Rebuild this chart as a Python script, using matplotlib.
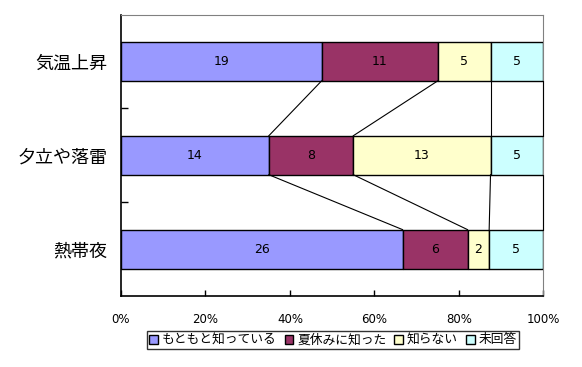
import matplotlib
matplotlib.use("Agg")
import matplotlib.pyplot as plt
import numpy as np

plt.rcParams['font.family'] = ['Noto Sans CJK JP', 'DejaVu Sans']

categories = ['気温上昇', '夕立や落雷', '熱帯夜']
series_names = ['もともと知っている', '夏休みに知った', '知らない', '未回答']
values = {
    'もともと知っている': [19, 14, 26],
    '夏休みに知った': [11, 8, 6],
    '知らない': [5, 13, 2],
    '未回答': [5, 5, 5],
}
colors = ['#9999FF', '#993366', '#FFFFCC', '#CCFFFF']
xtick_labels = ['0%', '20%', '40%', '60%', '80%', '100%']

fig = plt.figure(figsize=(5.82, 3.67), dpi=100)
ax = fig.add_axes([121/582, 1-296/367, (543.3-121)/582, (296-14.5)/367])

data = np.array([values[s] for s in series_names], dtype=float)  # series x cat
totals = data.sum(axis=0)
frac = data / totals
cum = np.cumsum(frac, axis=0)
left = cum - frac
y = np.arange(len(categories))
h = 0.415

for k, s in enumerate(series_names):
    ax.barh(y, frac[k], left=left[k], height=h, color=colors[k],
            edgecolor='black', linewidth=1.0, label=s, zorder=3)
    for i in range(len(categories)):
        ax.text(left[k][i] + frac[k][i] / 2, y[i], f"{int(data[k][i])}",
                ha='center', va='center', fontsize=9, zorder=4,
                family=['DejaVu Sans'])

# series lines (Excel style, including the last series at 100%)
for k in range(len(series_names)):
    for i in range(len(categories) - 1):
        ax.plot([cum[k][i], cum[k][i+1]], [y[i] + h/2, y[i+1] - h/2],
                color='black', linewidth=0.8, zorder=5, clip_on=False)

ax.set_xlim(0, 1)
ax.set_ylim(len(categories) - 0.5, -0.5)
ax.set_xticks(np.linspace(0, 1, 6))
ax.set_xticklabels(xtick_labels, fontsize=8.5, family=['DejaVu Sans'])
ax.set_yticks(y)
ax.set_yticklabels(categories, fontsize=13)
ax.set_yticks([0.5, 1.5], minor=True)
ax.tick_params(axis='y', which='major', length=0, pad=10)
ax.tick_params(axis='y', which='minor', length=5, direction='in', width=1)
ax.tick_params(axis='x', length=4, direction='in', pad=12, width=1)

for sp in ['top', 'right']:
    ax.spines[sp].set_color('#808080')
for sp in ['left', 'bottom']:
    ax.spines[sp].set_color('black')
    ax.spines[sp].set_linewidth(1.2)

leg = fig.legend(loc='center', bbox_to_anchor=(333/582, 1-340/367), ncol=4,
                 fontsize=9.2, frameon=True, fancybox=False, edgecolor='black',
                 handlelength=0.7, handleheight=0.7, handletextpad=0.3,
                 columnspacing=0.6, borderpad=0.2, borderaxespad=0)
leg.get_frame().set_linewidth(1.0)

fig.savefig('out.png', dpi=100)
